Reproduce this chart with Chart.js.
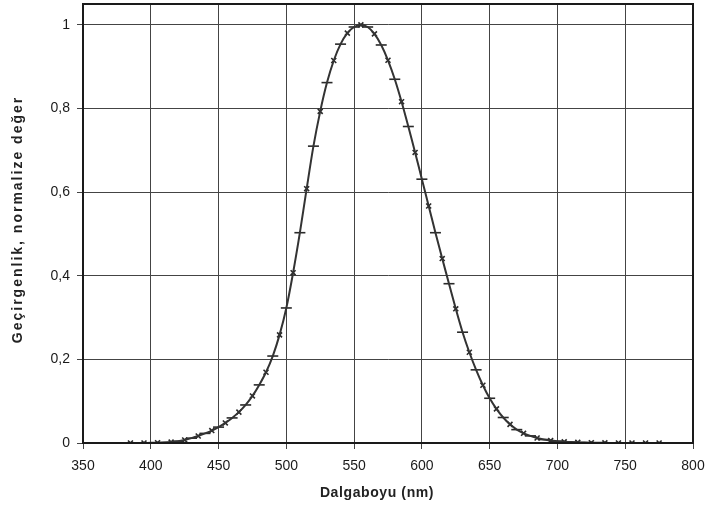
<!DOCTYPE html>
<html>
<head>
<meta charset="utf-8">
<script src="https://cdn.jsdelivr.net/npm/chart.js@4/dist/chart.umd.min.js"></script>
<style>
    html, body { margin: 0; padding: 0; background: #fff; }
    #wrap { width: 708px; height: 510px; }
</style>
</head>
<body>
<div id="wrap"><canvas id="specChart" width="708" height="510"></canvas></div>
<script>
// wavelength (nm) and normalized transmittance
const wavelengths = [380, 385, 390, 395, 400, 405, 410, 415, 420, 425, 430, 435, 440, 445, 450, 455, 460, 465, 470, 475,
    480, 485, 490, 495, 500, 505, 510, 515, 520, 525, 530, 535, 540, 545, 550, 555, 560, 565, 570, 575,
    580, 585, 590, 595, 600, 605, 610, 615, 620, 625, 630, 635, 640, 645, 650, 655, 660, 665, 670, 675,
    680, 685, 690, 695, 700, 705, 710, 715, 720, 725, 730, 735, 740, 745, 750, 755, 760, 765, 770, 775, 780];
const transmittance = [0.0000, 0.0001, 0.0001, 0.0002, 0.0004, 0.0006, 0.0012, 0.0022, 0.0040, 0.0073, 0.0116, 0.0168, 0.0230, 0.0298, 0.0380, 0.0480, 0.0600, 0.0739, 0.0910, 0.1126,
    0.1390, 0.1693, 0.2080, 0.2586, 0.3230, 0.4073, 0.5030, 0.6082, 0.7100, 0.7932, 0.8620, 0.9149, 0.9540, 0.9803, 0.9950, 1.0000, 0.9950, 0.9786, 0.9520, 0.9154,
    0.8700, 0.8163, 0.7570, 0.6949, 0.6310, 0.5668, 0.5030, 0.4412, 0.3810, 0.3210, 0.2650, 0.2170, 0.1750, 0.1382, 0.1070, 0.0816, 0.0610, 0.0446, 0.0320, 0.0232,
    0.0170, 0.0119, 0.0082, 0.0057, 0.0041, 0.0029, 0.0021, 0.0015, 0.0010, 0.0007, 0.0005, 0.0004, 0.0002, 0.0002, 0.0001, 0.0001, 0.0001, 0.0000, 0.0000, 0.0000, 0.0000];
const xTicks = [350, 400, 450, 500, 550, 600, 650, 700, 750, 800];
const yTicks = [0, 0.2, 0.4, 0.6, 0.8, 1];
const xTitle = 'Dalgaboyu (nm)';
const yTitle = 'Geçirgenlik, normalize değer';

const INK = '#1a1a1a';
const FONT = "'Liberation Sans', Arial, sans-serif";

const points = wavelengths.map((w, i) => ({ x: w, y: transmittance[i] }));

// frame round the plot area + the two (letter-spaced) axis titles
const frameAndTitles = {
    id: 'frameAndTitles',
    afterDraw(chart) {
        const { ctx, chartArea: a } = chart;
        ctx.save();
        ctx.strokeStyle = INK;
        ctx.lineWidth = 2;
        ctx.strokeRect(a.left, a.top, a.right - a.left, a.bottom - a.top);

        ctx.fillStyle = '#222';
        ctx.font = `bold 14px ${FONT}`;
        ctx.textAlign = 'center';
        ctx.textBaseline = 'middle';
        ctx.letterSpacing = '0.6px';
        ctx.fillText(xTitle, (a.left + a.right) / 2 - 11, 493);

        ctx.letterSpacing = '2px';
        ctx.translate(18, (a.top + a.bottom) / 2 - 4);
        ctx.rotate(-Math.PI / 2);
        ctx.fillText(yTitle, 0, 0);
        ctx.restore();
    }
};

const ctx = document.getElementById('specChart').getContext('2d');
new Chart(ctx, {
    type: 'scatter',
    data: {
        datasets: [
            {
                label: 'curve',
                data: points,
                showLine: true,
                borderColor: '#333',
                borderWidth: 2,
                pointRadius: 0,
                tension: 0.3
            },
            {
                label: 'marks',
                data: points,
                showLine: false,
                pointStyle: (c) => (c.dataIndex % 2 === 0 ? 'line' : 'crossRot'),
                pointRadius: (c) => (c.dataIndex % 2 === 0 ? 5.5 : 3.5),
                pointBorderColor: '#2a2a2a',
                pointBorderWidth: 1.6,
                pointBackgroundColor: '#2a2a2a'
            }
        ]
    },
    options: {
        responsive: false,
        animation: false,
        layout: { autoPadding: false, padding: { top: 4, right: 15, bottom: 0, left: 0 } },
        plugins: { legend: { display: false }, tooltip: { enabled: false } },
        scales: {
            x: {
                type: 'linear',
                min: 350,
                max: 800,
                afterBuildTicks: (s) => { s.ticks = xTicks.map(v => ({ value: v })); },
                afterFit: (s) => { s.height = 67; s.paddingLeft = 0; s.paddingRight = 0; },
                grid: { color: '#444', lineWidth: 1, tickLength: 6 },
                border: { color: INK, width: 1.5 },
                ticks: { color: INK, font: { family: FONT, size: 14 }, padding: 9, maxRotation: 0 }
            },
            y: {
                min: 0,
                max: 1.05,
                afterBuildTicks: (s) => { s.ticks = yTicks.map(v => ({ value: v })); },
                afterFit: (s) => { s.width = 83; s.paddingTop = 0; s.paddingBottom = 0; },
                grid: { color: '#444', lineWidth: 1, tickLength: 6 },
                border: { color: INK, width: 1.5 },
                ticks: {
                    color: INK,
                    font: { family: FONT, size: 14 },
                    padding: 7,
                    callback: (v) => String(Math.round(v * 10) / 10).replace('.', ',')
                }
            }
        }
    },
    plugins: [frameAndTitles]
});
</script>
</body>
</html>
